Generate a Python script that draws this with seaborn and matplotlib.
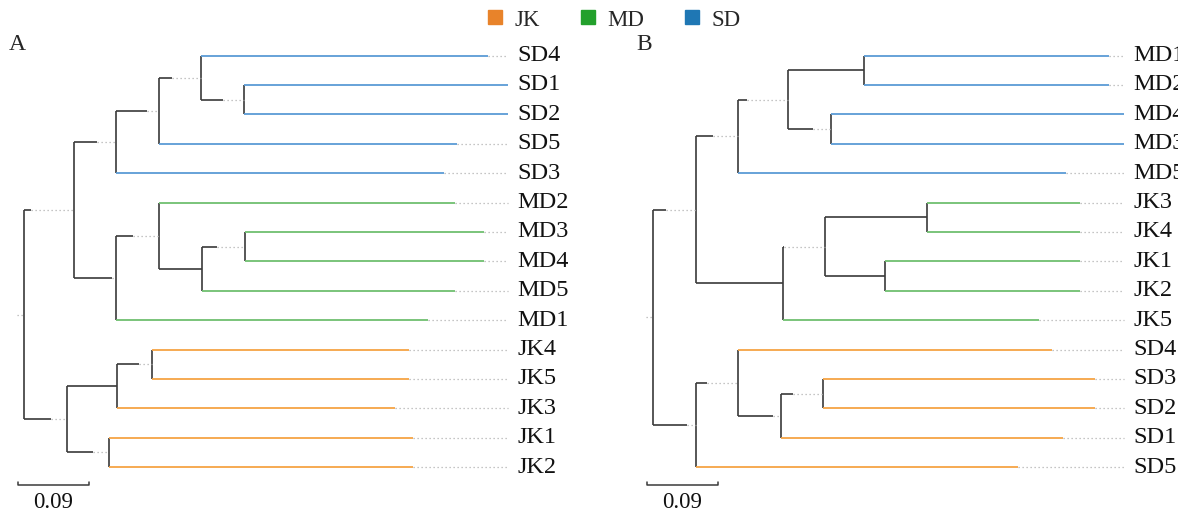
import matplotlib
matplotlib.use("Agg")
import matplotlib.pyplot as plt
from matplotlib.lines import Line2D
import seaborn as sns

sns.set_theme(style="white")
plt.rcParams["font.family"] = ["Liberation Serif", "DejaVu Serif"]

# tree A: internal nodes, their parent, drawn depth and solid part of incoming branch
a_nodes = ["root", "sm", "sd", "s4125", "s412", "s12", "md", "m2345", "m345", "m34", "jk", "j453", "j45", "j12"]
a_parent = [None, "root", "sm", "sd", "s4125", "s412", "sm", "md", "m2345", "m345", "root", "jk", "j453", "jk"]
a_depth = [0, 0.0626, 0.1166, 0.1704, 0.2240, 0.2781, 0.1166, 0.1704, 0.2253, 0.2798, 0.0541, 0.1179, 0.1615, 0.1077]
a_solid = [0, 0.0081, 0.0918, 0.1552, 0.1868, 0.2515, 0.1115, 0.1382, 0.2253, 0.2446, 0.0335, 0.1179, 0.1458, 0.0875]
a_leaves = ["SD4", "SD1", "SD2", "SD5", "SD3", "MD2", "MD3", "MD4", "MD5", "MD1", "JK4", "JK5", "JK3", "JK1", "JK2"]
a_leaf_parent = ["s412", "s12", "s12", "s4125", "sd", "m2345", "m34", "m34", "m345", "md", "j45", "j45", "j453", "j12", "j12"]
a_leaf_len = [0.5882, 0.6135, 0.6135, 0.5485, 0.5320, 0.5459, 0.5827, 0.5827, 0.5459, 0.5117,
              0.4876, 0.4876, 0.4699, 0.4921, 0.4921]
a_leaf_color = ["SD"] * 5 + ["MD"] * 5 + ["JK"] * 5

# tree B
b_nodes = ["root", "top", "mdb", "m1243", "m12", "m43", "jkb", "j3412", "j34", "j12", "sdb", "s4321", "s321", "s32"]
b_parent = [None, "root", "top", "mdb", "m1243", "m1243", "top", "jkb", "j3412", "j3412", "root", "sdb", "s4321", "s321"]
b_depth = [0, 0.0541, 0.1077, 0.1707, 0.2671, 0.2253, 0.1640, 0.2176, 0.3466, 0.2937, 0.0541, 0.1077, 0.1623, 0.2155]
b_solid = [0, 0.0161, 0.0761, 0.1184, 0.2671, 0.2028, 0.1640, 0.1657, 0.3466, 0.2937, 0.0423, 0.0677, 0.1513, 0.1775]
b_leaves = ["MD1", "MD2", "MD4", "MD3", "MD5", "JK3", "JK4", "JK1", "JK2", "JK5", "SD4", "SD3", "SD2", "SD1", "SD5"]
b_leaf_parent = ["m12", "m12", "m43", "m43", "mdb", "j34", "j34", "j12", "j12", "jkb", "s4321", "s32", "s32", "s321", "sdb"]
b_leaf_len = [0.5773, 0.5773, 0.5967, 0.5967, 0.5231, 0.5409, 0.5409, 0.5409, 0.5409, 0.4884,
              0.5048, 0.5599, 0.5599, 0.5188, 0.4628]
b_leaf_color = ["SD"] * 5 + ["MD"] * 5 + ["JK"] * 5

groups = ["JK", "MD", "SD"]
legend_colors = {"JK": "#e8832a", "MD": "#23a02c", "SD": "#1f77b4"}
branch_colors = {"JK": "#f6a444", "MD": "#6fbf6f", "SD": "#5b9bd5"}
scale_value = 0.09

DARK = "#3a3a3a"
DOT = "#b3b3b3"
DOTSTYLE = (0, (1, 2.2))


def draw_tree(ax, nodes, parent, depth, solid, leaves, leaf_parent, leaf_len, leaf_color):
    x = dict(zip(nodes, depth))
    sol = dict(zip(nodes, solid))
    par = dict(zip(nodes, parent))
    kids = {n: [] for n in nodes}
    for n in nodes:
        if par[n] is not None:
            kids[par[n]].append(n)
    for i, p in enumerate(leaf_parent):
        kids[p].append(leaves[i])
    y = {name: i for i, name in enumerate(leaves)}

    def get_y(n):
        if n not in y:
            ys = [get_y(k) for k in kids[n]]
            y[n] = (min(ys) + max(ys)) / 2
        return y[n]

    for n in nodes:
        get_y(n)

    align = max(leaf_len)
    # internal vertical + branches
    for n in nodes:
        ys = [y[k] for k in kids[n]]
        ax.plot([x[n], x[n]], [min(ys), max(ys)], color=DARK, lw=1.2, solid_capstyle="butt")
        p = par[n]
        if p is None:
            ax.plot([x[n] - 0.009, x[n]], [y[n], y[n]], color=DOT, lw=0.9, ls=DOTSTYLE)
            continue
        ax.plot([x[p], sol[n]], [y[n], y[n]], color=DARK, lw=1.2, solid_capstyle="butt")
        if x[n] - sol[n] > 0.001:
            ax.plot([sol[n], x[n]], [y[n], y[n]], color=DOT, lw=0.9, ls=DOTSTYLE)
    # tip branches
    for i, name in enumerate(leaves):
        p = leaf_parent[i]
        ax.plot([x[p], leaf_len[i]], [i, i], color=branch_colors[leaf_color[i]], lw=1.3,
                solid_capstyle="butt")
        if align - leaf_len[i] > 0.001:
            ax.plot([leaf_len[i], align], [i, i], color=DOT, lw=0.9, ls=DOTSTYLE)
        ax.text(align + 0.0115, i, name, fontsize=17.5, va="center", ha="left", color="#111111")

    # scale bar
    x0 = -0.008
    yb = 14.6
    ax.plot([x0, x0, x0 + scale_value, x0 + scale_value], [yb - 0.1, yb, yb, yb - 0.1],
            color=DARK, lw=1.1)
    ax.text(x0 + scale_value / 2, 15.2, f"{scale_value:.2f}", fontsize=16.5, ha="center", va="center",
            color="#111111")


fig = plt.figure(figsize=(11.78, 5.16), dpi=100)
px = 788.9
ylim = ((516 - 55.5) / 29.4, -55.5 / 29.4)

ax1 = fig.add_axes([0, 0, 0.5, 1])
ax1.set_xlim(-24.3 / px, (589 - 24.3) / px)
ax1.set_ylim(*ylim)
ax1.axis("off")
draw_tree(ax1, a_nodes, a_parent, a_depth, a_solid, a_leaves, a_leaf_parent, a_leaf_len, a_leaf_color)

ax2 = fig.add_axes([0.5, 0, 0.5, 1])
ax2.set_xlim(-(653.3 - 589) / px, (1178 - 653.3) / px)
ax2.set_ylim(*ylim)
ax2.axis("off")
draw_tree(ax2, b_nodes, b_parent, b_depth, b_solid, b_leaves, b_leaf_parent, b_leaf_len, b_leaf_color)

fig.text(9 / 1178, 1 - 45 / 516, "A", fontsize=17, va="center", ha="left")
fig.text(636 / 1178, 1 - 45 / 516, "B", fontsize=17, va="center", ha="left")

handles = [Line2D([], [], marker="s", ls="", markersize=10, color=legend_colors[g]) for g in groups]
fig.legend(handles, groups, loc="center", bbox_to_anchor=(614 / 1178, 1 - 20 / 516), ncol=3,
           frameon=False, fontsize=16.5, handlelength=0.7, handletextpad=0.5, columnspacing=1.75)

fig.savefig("out.png", dpi=100)
